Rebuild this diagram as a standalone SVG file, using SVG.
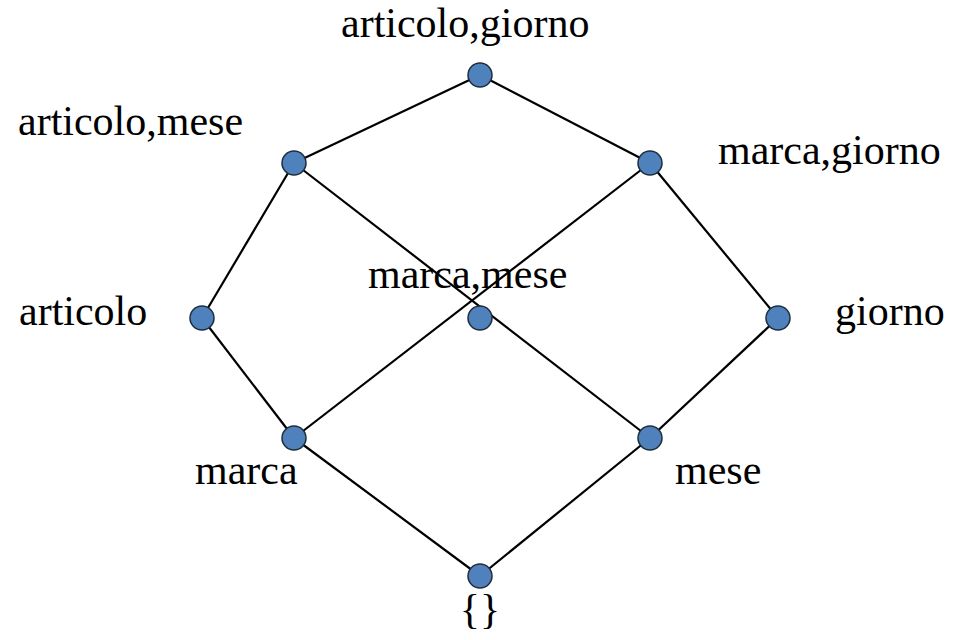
<svg xmlns="http://www.w3.org/2000/svg" width="957" height="640" viewBox="0 0 957 640">
  <style>
    .edge { stroke: #000; stroke-width: 2.2; fill: none; }
    .dot { fill: #4f81bd; stroke: #1f2d3d; stroke-width: 1.5; }
    .lbl { font-family: "Liberation Serif", "Times New Roman", serif; font-size: 42px; fill: #000; }
  </style>
  <rect width="957" height="640" fill="#fff"/>
  <g id="connectors">
    <line class="edge" x1="480" y1="75" x2="294" y2="163"/>
    <line class="edge" x1="480" y1="75" x2="650" y2="163"/>
    <line class="edge" x1="294" y1="163" x2="202" y2="318"/>
    <line class="edge" x1="294" y1="163" x2="650" y2="438"/>
    <line class="edge" x1="650" y1="163" x2="294" y2="438"/>
    <line class="edge" x1="650" y1="163" x2="778" y2="318"/>
    <line class="edge" x1="202" y1="318" x2="294" y2="438"/>
    <line class="edge" x1="778" y1="318" x2="650" y2="438"/>
    <line class="edge" x1="294" y1="438" x2="480" y2="576"/>
    <line class="edge" x1="650" y1="438" x2="480" y2="576"/>
  </g>
  <g id="n-articolo-giorno">
    <circle class="dot" cx="480" cy="75" r="12"/>
    <text class="lbl" x="341" y="37">articolo,giorno</text>
  </g>
  <g id="n-articolo-mese">
    <circle class="dot" cx="294" cy="163" r="12"/>
    <text class="lbl" x="18" y="135">articolo,mese</text>
  </g>
  <g id="n-marca-giorno">
    <circle class="dot" cx="650" cy="163" r="12"/>
    <text class="lbl" x="718" y="164">marca,giorno</text>
  </g>
  <g id="n-articolo">
    <circle class="dot" cx="202" cy="318" r="12"/>
    <text class="lbl" x="19" y="325">articolo</text>
  </g>
  <g id="n-marca-mese">
    <circle class="dot" cx="480" cy="318" r="12"/>
    <text class="lbl" x="368" y="288">marca,mese</text>
  </g>
  <g id="n-giorno">
    <circle class="dot" cx="778" cy="318" r="12"/>
    <text class="lbl" x="835" y="325">giorno</text>
  </g>
  <g id="n-marca">
    <circle class="dot" cx="294" cy="438" r="12"/>
    <text class="lbl" x="195" y="484">marca</text>
  </g>
  <g id="n-mese">
    <circle class="dot" cx="650" cy="438" r="12"/>
    <text class="lbl" x="675" y="484">mese</text>
  </g>
  <g id="n-empty">
    <circle class="dot" cx="480" cy="576" r="12"/>
    <text class="lbl" x="480" y="623" text-anchor="middle">{}</text>
  </g>
</svg>
